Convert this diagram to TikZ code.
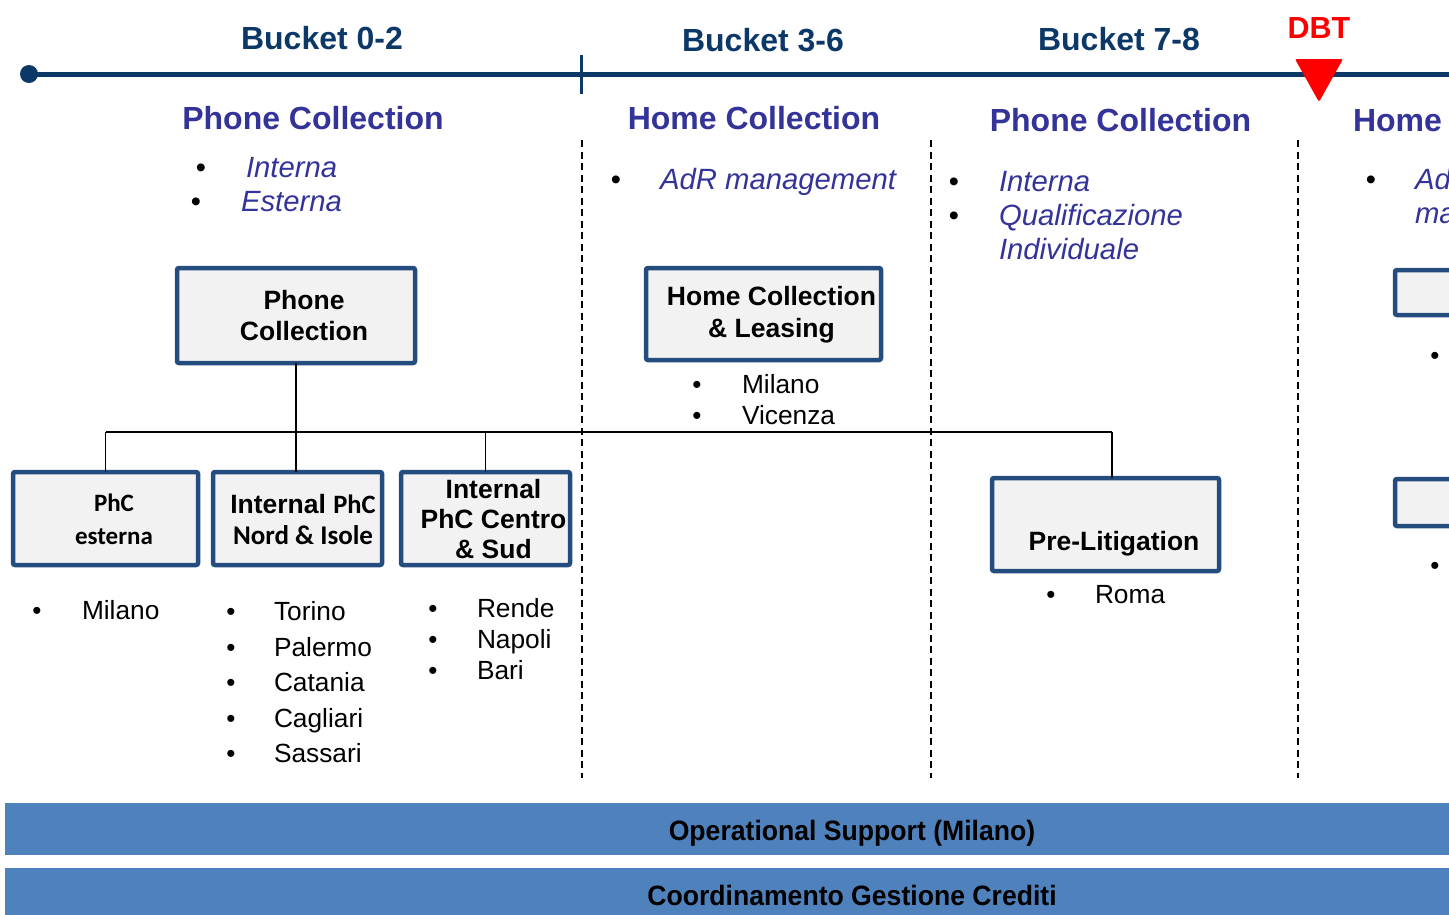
\documentclass[tikz,border=0pt]{standalone}
\usepackage{fontspec}
\setmainfont{Liberation Sans}
\newfontfamily\calib{Carlito}
\usetikzlibrary{calc}
\definecolor{navy}{RGB}{12,56,104}
\definecolor{hdr}{RGB}{51,51,153}
\definecolor{boxline}{RGB}{36,76,126}
\definecolor{boxfill}{RGB}{242,242,242}
\definecolor{barblue}{RGB}{79,129,189}
\definecolor{dbtred}{RGB}{255,0,0}
\begin{document}
\begin{tikzpicture}[x=1pt,y=-1pt,
  every node/.style={inner sep=0pt, outer sep=0pt},
  bucket/.style={anchor=base, text=navy, font=\fontsize{32}{36}\selectfont\bfseries},
  header/.style={anchor=base, text=hdr, font=\fontsize{32}{36}\selectfont\bfseries},
  itm/.style={anchor=base west, text=hdr, font=\fontsize{29.3}{34}\selectfont\itshape},
  ibul/.style={anchor=base, font=\fontsize{29}{34}\selectfont},
  bul/.style={anchor=base, font=\fontsize{26}{31}\selectfont},
  city/.style={anchor=base west, font=\fontsize{26.3}{31}\selectfont},
  orgbox/.style={draw=boxline, fill=boxfill, line width=4.5pt, rounded corners=2pt},
  boxtxt/.style={align=center, font=\fontsize{26.5}{31}\selectfont\bfseries},
  sepline/.style={line width=1.6pt, dash pattern=on 7pt off 4.5pt},
  conn/.style={line width=1.8pt, black},
  bar/.style={fill=barblue},
  bartxt/.style={anchor=base, font=\fontsize{28}{33}\selectfont\bfseries}
]
\useasboundingbox (0,0) rectangle (1449,914);
\clip (0,0) rectangle (1449,914);

% timeline
\coordinate (t0) at (29,74);
\coordinate (t1) at (1460,74);
\draw[navy, line width=5pt] (t0) -- (t1);
\fill[navy] (t0) circle (9);
\coordinate (tk0) at (581,55);
\coordinate (tk1) at (581,94);
\draw[navy, line width=3pt] (tk0) -- (tk1);
\node[bucket] (b1) at (322,49) {Bucket 0-2};
\node[bucket] (b2) at (763,51) {Bucket 3-6};
\node[bucket] (b3) at (1119,50) {Bucket 7-8};
\node[anchor=base, text=dbtred, font=\fontsize{30.5}{36}\selectfont\bfseries] (dbt) at (1319,38) {DBT};
\fill[dbtred, rounded corners=1.5pt] (1295,59) -- (1343,59) -- (1319,102) -- cycle;

% separators
\draw[sepline] (582,140) -- (582,778);
\draw[sepline] (931,140) -- (931,778);
\draw[sepline] (1298,140) -- (1298,778);

% headers
\node[header] (h1) at (313,129) {Phone Collection};
\node[header] (h2) at (754,129) {Home Collection};
\node[header] (h3) at (1120.5,131) {Phone Collection};
\node[header, anchor=base west] (h4) at (1353,131) {Home Collection};

% italic items
\node[ibul] at (201,177) {•}; \node[itm] at (246,177) {Interna};
\node[ibul] at (196,211) {•}; \node[itm] at (241,211) {Esterna};
\node[ibul] at (616,189) {•}; \node[itm] at (660,189) {AdR management};
\node[ibul] at (954,191) {•}; \node[itm] at (999,191) {Interna};
\node[ibul] at (954,225) {•}; \node[itm] at (999,225) {Qualificazione};
\node[itm] at (999,259) {Individuale};
\node[ibul] at (1371,189) {•}; \node[itm] at (1415,189) {AdR};
\node[itm] at (1415,223) {management};

% boxes
\node[orgbox, minimum width=238pt, minimum height=95pt] (pc) at (296,315.5) {};
\node[boxtxt] at (304,316) {Phone\\Collection};

\node[orgbox, minimum width=235pt, minimum height=92pt] (hcl) at (763.5,314) {};
\node[boxtxt, font=\fontsize{26.5}{32}\selectfont\bfseries] at (771.5,315) {Home Collection\\\& Leasing};

\node[orgbox, minimum width=185pt, minimum height=93pt] (est) at (105.5,518.5) {};
\node[boxtxt, font=\fontsize{25}{33}\selectfont\calib\bfseries] at (114,519) {PhC\\esterna};

\node[orgbox, minimum width=169pt, minimum height=93pt] (nord) at (297.5,518.5) {};
\node[boxtxt] at (303,519) {Internal {\calib PhC}\\{\calib\fontsize{27}{31}\selectfont Nord \& Isole}};

\node[orgbox, minimum width=169pt, minimum height=93pt] (centro) at (485.5,518.5) {};
\node[boxtxt, font=\fontsize{26.5}{30}\selectfont\bfseries] at (493.5,519) {Internal\\PhC Centro\\\& Sud};

\node[orgbox, minimum width=227pt, minimum height=93pt] (prelit) at (1105.5,524.5) {};
\node[boxtxt, anchor=base] at (1114,550) {Pre-Litigation};

\node[orgbox, minimum width=250pt, minimum height=45pt] (c4a) at (1520,292.5) {};
\node[orgbox, minimum width=250pt, minimum height=47pt] (c4b) at (1520,502.5) {};
\node[bul] at (1435,364) {•};
\node[bul] at (1435,574) {•};

% connectors
\coordinate (bus) at (105,432);
\draw[conn] (pc.south) -- (pc.south |- bus);
\draw[conn] (est.north |- bus) -- ([xshift=6.5pt]prelit.north |- bus);
\draw[conn] (est.north |- bus) -- (est.north);
\draw[conn] ([xshift=-1.5pt]nord.north |- bus) -- ([xshift=-1.5pt]nord.north);
\draw[conn] (centro.north |- bus) -- (centro.north);
\draw[conn] ([xshift=6.5pt]prelit.north |- bus) -- ([xshift=6.5pt]prelit.north);

% city lists
\node[bul] at (37,619) {•}; \node[city] at (82,619) {Milano};
\node[bul] at (231,620) {•}; \node[city] at (274,620) {Torino};
\node[bul] at (231,656) {•}; \node[city] at (274,656) {Palermo};
\node[bul] at (231,691) {•}; \node[city] at (274,691) {Catania};
\node[bul] at (231,727) {•}; \node[city] at (274,727) {Cagliari};
\node[bul] at (231,762) {•}; \node[city] at (274,762) {Sassari};
\node[bul] at (433,617) {•}; \node[city] at (477,617) {Rende};
\node[bul] at (433,648) {•}; \node[city] at (477,648) {Napoli};
\node[bul] at (433,679) {•}; \node[city] at (477,679) {Bari};
\node[bul] at (697,393) {•}; \node[city] at (742,393) {Milano};
\node[bul] at (697,424) {•}; \node[city] at (742,424) {Vicenza};
\node[bul] at (1051,603) {•}; \node[city] at (1095,603) {Roma};

% bottom bars
\fill[bar] (5,803) rectangle (1460,855);
\fill[bar] (5,868) rectangle (1460,920);
\node[bartxt] (ops) at (852,840) {\scalebox{0.95}[1]{Operational Support (Milano)}};
\node[bartxt] (cgc) at (852,905) {\scalebox{0.95}[1]{Coordinamento Gestione Crediti}};
\end{tikzpicture}
\end{document}
